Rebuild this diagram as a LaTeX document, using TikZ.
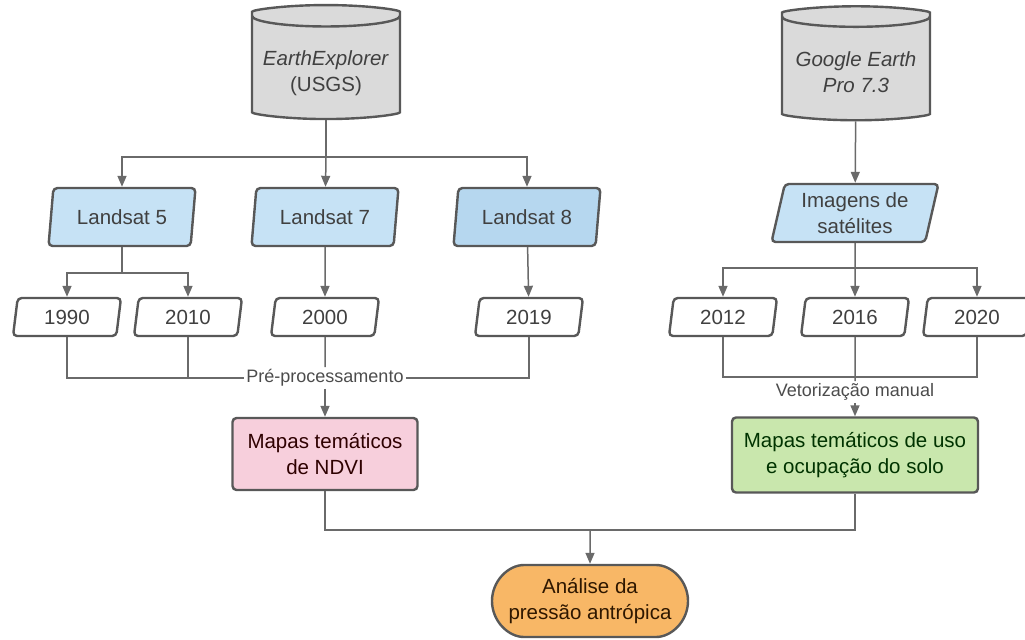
\documentclass[tikz,border=0pt]{standalone}
\usepackage{fontspec}
\setmainfont{Liberation Sans}
\usetikzlibrary{positioning, arrows.meta, shapes.geometric, shapes.misc}

\definecolor{linegray}{HTML}{6A6A6A}
\definecolor{edgegray}{HTML}{585858}
\definecolor{dbfill}{HTML}{DADADA}
\definecolor{satfill}{HTML}{C6E2F5}
\definecolor{satfilldark}{HTML}{B6D7EF}
\definecolor{ndvifill}{HTML}{F7CFDC}
\definecolor{solofill}{HTML}{C9E7AD}
\definecolor{fimfill}{HTML}{F8B766}

\begin{document}
\begin{tikzpicture}
        [x=0.5pt, y=-0.5pt,
         box/.style={draw=edgegray, line width=1.2pt, rounded corners=2pt, align=center,
                     font=\fontsize{10.25}{13}\selectfont, text=black!75, inner sep=0pt},
         db/.style={box, cylinder, shape border rotate=90, aspect=0.17, fill=dbfill,
                    minimum width=74pt, minimum height=57pt},
         sat/.style={box, trapezium, trapezium left angle=72, trapezium right angle=108,
                     trapezium stretches body, fill=satfill,
                     minimum width=73.5pt, minimum height=29pt},
         year/.style={box, trapezium, trapezium left angle=72, trapezium right angle=108,
                      trapezium stretches body, fill=white,
                      minimum width=54pt, minimum height=19pt},
         mapa/.style={box, rectangle, minimum height=36pt},
         fim/.style={box, rounded rectangle, fill=fimfill, minimum width=98pt, minimum height=36pt},
         rot/.style={fill=white, inner sep=1pt, text=black!70, font=\fontsize{9}{11}\selectfont},
         con/.style={draw=linegray, line width=0.75pt},
         >={Triangle[width=4.5pt, length=5.5pt]}]
        \useasboundingbox (0,0) rectangle (1025,639);

        \node[db] (EE) at (326,68)
            {\raisebox{-5pt}[0pt][0pt]{\begin{tabular}{@{}c@{}}\textit{EarthExplorer}\\(USGS)\end{tabular}}};
        \node[db] (GE) at (856,69)
            {\raisebox{-5pt}[0pt][0pt]{\begin{tabular}{@{}c@{}}\textit{Google Earth}\\\textit{Pro 7.3}\end{tabular}}};

        \node[sat] (L5) at (122,217) {Landsat 5};
        \node[sat] (L7) at (325,217) {Landsat 7};
        \node[sat, fill=satfilldark] (L8) at (527,217) {Landsat 8};
        \node[sat, minimum width=83.5pt] (IS) at (855,213) {Imagens de\\satélites};

        \node[year] (Y1990) at (67,317) {1990};
        \node[year] (Y2010) at (188,317) {2010};
        \node[year] (Y2000) at (325,317) {2000};
        \node[year] (Y2019) at (529,317) {2019};
        \node[year] (Y2012) at (723,317) {2012};
        \node[year] (Y2016) at (855,317) {2016};
        \node[year] (Y2020) at (977,317) {2020};

        \node[mapa, fill=ndvifill, minimum width=92.5pt, text=black!70!red!60!black] (NDVI) at (325,454)
            {Mapas temáticos\\de NDVI};
        \node[mapa, fill=solofill, minimum width=123pt, minimum height=37.5pt, text=black!60!green!50!black] (SOLO) at (855,455)
            {Mapas temáticos de uso\\e ocupação do solo};
        \node[fim, text=black!70!orange!60!black] (AP) at (590,601) {Análise da\\pressão antrópica};

        \coordinate (b1) at (326,157);
        \coordinate (b2) at (122,273);
        \coordinate (b3) at (855,268);
        \coordinate (m2) at (855,377);
        \coordinate (m3) at (590,530);

        \draw[con] (EE) -- (b1);
        \draw[con, ->] (b1) -| (L5);
        \draw[con, ->] (b1) -- (L7);
        \draw[con, ->] (b1) -| (L8);
        \draw[con] (L5) -- (b2);
        \draw[con, ->] (b2) -| (Y1990);
        \draw[con, ->] (b2) -| (Y2010);
        \draw[con, ->] (L7) -- (Y2000);
        \draw[con, ->] (L8) -- (Y2019);

        \draw[con, ->] (GE) -- (IS);
        \draw[con, ->] (IS) -- (Y2016);
        \draw[con, ->] (b3) -| (Y2012);
        \draw[con, ->] (b3) -| (Y2020);

        \node[rot] (PRE) at (325,378) {Pré-processamento};
        \draw[con] (Y1990) |- (PRE);
        \draw[con] (Y2010) |- (PRE);
        \draw[con] (Y2000) -- (PRE);
        \draw[con] (Y2019) |- (PRE);
        \draw[con, ->] (PRE) -- (NDVI);

        \node[rot] (VET) at (855,392) {Vetorização manual};
        \draw[con] (Y2012) |- (m2) -| (Y2020);
        \draw[con] (Y2016) -- (VET);
        \draw[con, ->] (VET) -- (SOLO);

        \draw[con] (NDVI) |- (m3);
        \draw[con] (SOLO) |- (m3);
        \draw[con, ->] (m3) -- (AP);
\end{tikzpicture}
\end{document}
